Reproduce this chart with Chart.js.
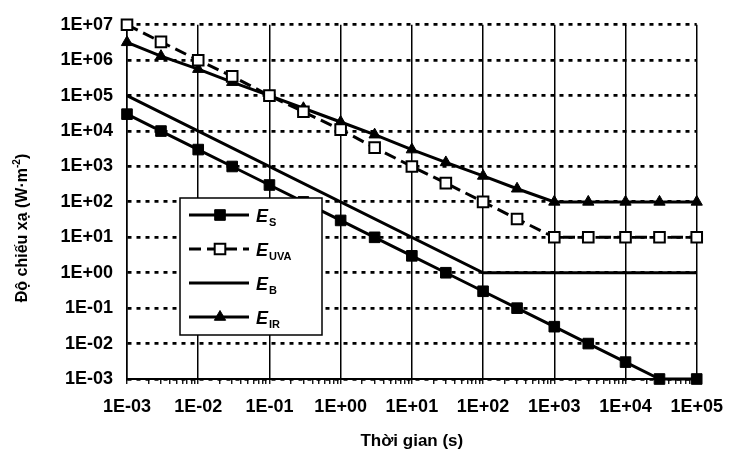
<!DOCTYPE html>
<html>
<head>
<meta charset="utf-8">
<script src="https://cdn.jsdelivr.net/npm/chart.js@4.4.0/dist/chart.umd.min.js"></script>
<style>
  html,body{margin:0;padding:0;background:#fff}
</style>
</head>
<body>
<canvas id="bieuDo" width="735" height="466"></canvas>
<script>
/* ===== Dữ liệu ===== */
const thoiGian = [1e-3,3e-3,1e-2,3e-2,1e-1,3e-1,1,3,10,30,100,300,1e3,3e3,1e4,3e4,1e5];
const eS   = [3e4,1e4,3e3,1e3,300,100,30,10,3,1,0.3,0.1,0.03,0.01,3e-3,1e-3,1e-3];
const eUVA = [1e7,3.3e6,1e6,3.5e5,1e5,3.5e4,1.1e4,3.4e3,1e3,340,100,33,10,10,10,10,10];
const eIR  = [3.2e6,1.3e6,5.6e5,2.4e5,1e5,4.4e4,1.8e4,7.9e3,3e3,1.3e3,540,235,100,100,100,100,100];
const thoiGianB = [1e-3,1e2,1e5];
const eB   = [1e5,1,1];

const mocX = [1e-3,1e-2,1e-1,1e0,1e1,1e2,1e3,1e4,1e5];
const nhanX = ['1E-03','1E-02','1E-01','1E+00','1E+01','1E+02','1E+03','1E+04','1E+05'];
const mocY = [1e-3,1e-2,1e-1,1e0,1e1,1e2,1e3,1e4,1e5,1e6,1e7];
const nhanY = ['1E-03','1E-02','1E-01','1E+00','1E+01','1E+02','1E+03','1E+04','1E+05','1E+06','1E+07'];

/* ===== Helpers ===== */
const FONT = "'Liberation Sans', Arial, sans-serif";
function laMocChinh(v){ const l = Math.log10(v); return Math.abs(l - Math.round(l)) < 1e-9; }
function ghep(xs, ys){ return xs.map((x,i)=>({x, y: ys[i]})); }

/* chú giải tự vẽ (có chỉ số dưới) + nhãn trục tung */
const khungChuGiai = {
  id: 'khungChuGiai',
  afterDatasetsDraw(chart){
    const ctx = chart.ctx;
    const bx = 180, by = 198, bw = 142, bh = 137;
    ctx.save();
    ctx.fillStyle = '#fff'; ctx.strokeStyle = '#000'; ctx.lineWidth = 1.5;
    ctx.fillRect(bx, by, bw, bh); ctx.strokeRect(bx, by, bw, bh);
    chart.data.datasets.forEach((ds, i) => {
      const y = 215 + i*34;
      ctx.strokeStyle = ds.borderColor; ctx.lineWidth = ds.borderWidth;
      ctx.setLineDash(ds.borderDash || []);
      ctx.beginPath(); ctx.moveTo(189, y); ctx.lineTo(249, y); ctx.stroke();
      ctx.setLineDash([]);
      if(ds.pointRadius > 0){
        ctx.fillStyle = ds.pointBackgroundColor; ctx.strokeStyle = ds.pointBorderColor;
        ctx.lineWidth = ds.pointBorderWidth;
        Chart.helpers.drawPoint(ctx, {pointStyle: ds.pointStyle, radius: ds.pointRadius, borderWidth: ds.pointBorderWidth, rotation: 0}, 220, y);
      }
      ctx.fillStyle = '#000'; ctx.textBaseline = 'alphabetic'; ctx.textAlign = 'left';
      ctx.font = `italic bold 18px ${FONT}`;
      ctx.fillText('E', 256, y + 7);
      const w = ctx.measureText('E').width;
      ctx.font = `bold 11px ${FONT}`;
      ctx.fillText(ds.chiSo, 256 + w + 1, y + 11);
    });
    ctx.restore();
  },
  afterDraw(chart){
    const ctx = chart.ctx;
    ctx.save();
    ctx.translate(23, 228); ctx.rotate(-Math.PI/2);
    ctx.fillStyle = '#000'; ctx.textBaseline = 'middle'; ctx.textAlign = 'left';
    const f1 = `bold 16px ${FONT}`, f2 = `bold 10px ${FONT}`;
    const a = 'Độ chiếu xạ (W·m', b = '-2', c = ')';
    ctx.font = f1; const wa = ctx.measureText(a).width, wc = ctx.measureText(c).width;
    ctx.font = f2; const wb = ctx.measureText(b).width;
    let x = -(wa + wb + wc)/2;
    ctx.font = f1; ctx.fillText(a, x, 0); x += wa;
    ctx.font = f2; ctx.fillText(b, x, -6); x += wb;
    ctx.font = f1; ctx.fillText(c, x, 0);
    ctx.restore();
  }
};

/* ===== Biểu đồ ===== */
new Chart(document.getElementById('bieuDo'), {
  type: 'line',
  data: {
    datasets: [
      { label: 'E_S', chiSo: 'S', data: ghep(thoiGian, eS), clip: false,
        borderColor: '#000', borderWidth: 3, pointStyle: 'rect', pointRadius: 7.5,
        pointBackgroundColor: '#000', pointBorderColor: '#000', pointBorderWidth: 1 },
      { label: 'E_UVA', chiSo: 'UVA', data: ghep(thoiGian, eUVA), clip: false,
        borderColor: '#000', borderWidth: 3, borderDash: [12, 6], pointStyle: 'rect', pointRadius: 7.5,
        pointBackgroundColor: '#fff', pointBorderColor: '#000', pointBorderWidth: 2 },
      { label: 'E_B', chiSo: 'B', data: ghep(thoiGianB, eB), clip: false,
        borderColor: '#000', borderWidth: 3, pointRadius: 0,
        pointBackgroundColor: '#000', pointBorderColor: '#000', pointBorderWidth: 0 },
      { label: 'E_IR', chiSo: 'IR', data: ghep(thoiGian, eIR), clip: false,
        borderColor: '#000', borderWidth: 3, pointStyle: 'triangle', pointRadius: 6.5,
        pointBackgroundColor: '#000', pointBorderColor: '#000', pointBorderWidth: 1 }
    ]
  },
  options: {
    responsive: false,
    animation: false,
    devicePixelRatio: 1,
    layout: { padding: { top: 18, right: 29, left: 0, bottom: 0 } },
    plugins: { legend: { display: false }, tooltip: { enabled: false } },
    elements: { line: { tension: 0 } },
    scales: {
      x: {
        type: 'logarithmic', min: 1e-3, max: 1e5,
        afterBuildTicks(scale){
          const t = [];
          mocX.forEach((d, i) => {
            if(i === mocX.length - 1){ t.push({value: d}); return; }
            for(let k = 1; k <= 9; k++) t.push({value: d*k});
          });
          scale.ticks = t;
        },
        afterFit(scale){ scale.height = 87; },
        ticks: {
          autoSkip: false, maxRotation: 0, padding: 12, color: '#000',
          font: { family: FONT, size: 18, weight: 'bold' },
          callback: v => laMocChinh(v) ? nhanX[mocX.findIndex(m => Math.abs(Math.log10(m) - Math.log10(v)) < 1e-9)] : ''
        },
        grid: {
          color: c => (c.tick && laMocChinh(c.tick.value)) ? '#000' : 'rgba(0,0,0,0)',
          lineWidth: 1.5, tickColor: '#000', tickLength: 5, tickWidth: 1.3
        },
        border: { color: '#000', width: 2 },
        title: { display: true, text: 'Thời gian (s)', color: '#000',
          font: { family: FONT, size: 17, weight: 'bold' }, padding: { top: 0, bottom: 14 } }
      },
      y: {
        type: 'logarithmic', min: 1e-3, max: 1e7,
        afterBuildTicks(scale){ scale.ticks = mocY.map(v => ({value: v})); },
        afterFit(scale){ scale.width = 127; },
        ticks: {
          padding: 14, color: '#000',
          font: { family: FONT, size: 18, weight: 'bold' },
          callback: (v, i) => nhanY[i]
        },
        grid: { color: '#000', lineWidth: 2.8, drawTicks: false },
        border: { color: '#000', width: 1.5, dash: [4, 5] }
      }
    }
  },
  plugins: [khungChuGiai]
});
</script>
</body>
</html>
